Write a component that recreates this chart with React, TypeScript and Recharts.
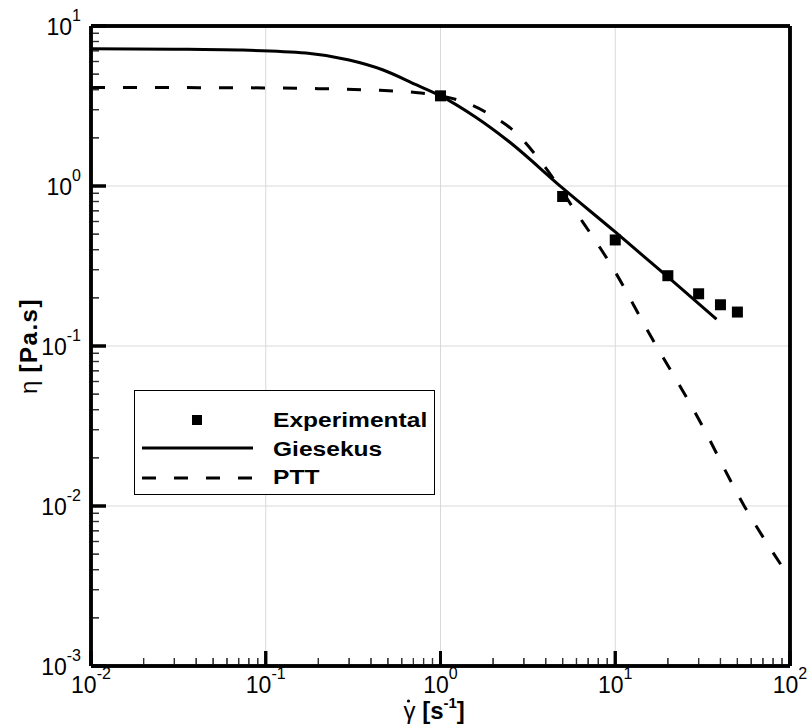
import React from "react";
import { ComposedChart, Line, XAxis, YAxis, ReferenceLine } from "recharts";

// shear rate [1/s] and viscosity [Pa.s]
const expShear = [1, 5, 10, 20, 30, 40, 50];
const expEta = [3.66, 0.86, 0.46, 0.275, 0.212, 0.181, 0.163];

const giesekusShear = [0.01, 0.03, 0.07, 0.17, 0.3, 0.47, 0.73, 1, 1.6, 2.4, 5, 10, 20, 38];
const giesekusEta = [7.2, 7.16, 7.08, 6.78, 6.13, 5.31, 4.28, 3.66, 2.68, 1.94, 0.97, 0.516, 0.27, 0.147];

const pttShear = [0.01, 0.03, 0.1, 0.2, 0.4, 0.7, 1, 1.3, 1.97, 2.7, 3.7, 6, 10, 15, 30, 55, 90];
const pttEta = [4.12, 4.12, 4.1, 4.06, 3.98, 3.85, 3.66, 3.41, 2.75, 2.15, 1.45, 0.68, 0.29, 0.13, 0.035, 0.0099, 0.0042];

const xDecades = [-2, -1, 0, 1, 2];
const yDecades = [-3, -2, -1, 0, 1];
const minorSteps = [2, 3, 4, 5, 6, 7, 8, 9];

const legendNames = ["Experimental", "Giesekus", "PTT"];

const FONT = '"Liberation Sans", Arial, Helvetica, sans-serif';
const W = 811;
const H = 727;
const MARGIN = { top: 26, right: 21, bottom: 21, left: 31 };
const PLOT_W = 699;
const PLOT_H = 640;

const toRows = (xs: number[], ys: number[]) => xs.map((x, i) => ({ x, y: ys[i] }));
const expData = toRows(expShear, expEta);
const giesekusData = toRows(giesekusShear, giesekusEta);
const pttData = toRows(pttShear, pttEta);

const majors = (decades: number[]) => decades.map((d) => Math.pow(10, d));
const minors = (decades: number[]) => {
  const out: number[] = [];
  decades.slice(0, -1).forEach((d) => minorSteps.forEach((m) => out.push(m * Math.pow(10, d))));
  return out;
};
const xMajor = majors(xDecades);
const yMajor = majors(yDecades);
const xMinor = minors(xDecades);
const yMinor = minors(yDecades);

const xMin = xMajor[0];
const xMax = xMajor[xMajor.length - 1];
const yMin = yMajor[0];
const yMax = yMajor[yMajor.length - 1];

const expOf = (v: number) => Math.round(Math.log10(v));
const xFactor = (px: number) => Math.pow(10, (px * (xDecades.length - 1)) / PLOT_W);
const yFactor = (px: number) => Math.pow(10, (px * (yDecades.length - 1)) / PLOT_H);

const XTick = (props: any) => {
  const { x, y, payload } = props;
  return (
    <text x={x} y={y + 27} textAnchor="middle" fontFamily={FONT} fontSize={23} fill="#000">
      <tspan>10</tspan>
      <tspan dy={-14} fontSize={16}>{expOf(payload.value)}</tspan>
    </text>
  );
};

const YTick = (props: any) => {
  const { x, y, payload } = props;
  return (
    <text x={x - 10} y={y + 8.5} textAnchor="end" fontFamily={FONT} fontSize={23} fill="#000">
      <tspan>10</tspan>
      <tspan dy={-14} fontSize={16}>{expOf(payload.value)}</tspan>
    </text>
  );
};

const EmptyTick = () => <g />;

const XTitle = (props: any) => {
  const { viewBox } = props;
  const x0 = viewBox.x + viewBox.width / 2 - 37;
  const y = viewBox.y + 53;
  return (
    <g>
      <text x={x0} y={y} fontFamily={FONT} fontSize={24} fill="#000">
        <tspan fontWeight="normal">γ</tspan>
        <tspan fontWeight="bold"> [s</tspan>
        <tspan fontWeight="bold" fontSize={15} dy={-11}>-1</tspan>
        <tspan fontWeight="bold" dy={11}>]</tspan>
      </text>
      <circle cx={x0 + 5} cy={y - 18} r={1.6} fill="#000" />
    </g>
  );
};

const YTitle = (props: any) => {
  const { viewBox } = props;
  const x = viewBox.x + viewBox.width - 54;
  const cy = viewBox.y + viewBox.height / 2;
  return (
    <text
      x={x}
      y={cy}
      textAnchor="middle"
      fontFamily={FONT}
      fontSize={24}
      fill="#000"
      transform={`rotate(-90, ${x}, ${cy})`}
    >
      <tspan fontWeight="normal">η</tspan>
      <tspan fontWeight="bold" letterSpacing={1.5}> [Pa.s]</tspan>
    </text>
  );
};

const SquareDot = (props: any) => {
  const { cx, cy, index } = props;
  if (cx == null || cy == null) return <g key={index} />;
  return <rect key={index} x={cx - 5.5} y={cy - 5.5} width={11} height={11} fill="#000" />;
};

const LegendBox = () => (
  <svg
    width={302}
    height={106}
    style={{ position: "absolute", left: 134, top: 390, display: "block", pointerEvents: "none" }}
  >
    <rect x={0.5} y={0.5} width={300} height={104} fill="#fff" stroke="#000" strokeWidth={1} />
    <rect x={58} y={25} width={10} height={10} fill="#000" />
    <line x1={8} x2={119} y1={58} y2={58} stroke="#000" strokeWidth={3} />
    <line x1={8} x2={119} y1={88} y2={88} stroke="#000" strokeWidth={3} strokeDasharray="14 18" />
    {legendNames.map((n, i) => (
      <text
        key={n}
        transform={`translate(139, ${37 + i * 28.5}) scale(1.17, 1)`}
        fontFamily={FONT}
        fontSize={21}
        fontWeight="bold"
        fill="#000"
      >
        {n}
      </text>
    ))}
  </svg>
);

const tickSeg = (v: number, major: boolean, axis: "x" | "y") => (
  <ReferenceLine
    key={axis + (major ? "M" : "m") + v}
    segment={
      axis === "x"
        ? [
            { x: v, y: yMin },
            { x: v, y: yMin * yFactor(major ? 15 : 8) },
          ]
        : [
            { x: xMin, y: v },
            { x: xMin * xFactor(major ? 15 : 8), y: v },
          ]
    }
    stroke={major ? "#000" : "#333"}
    strokeWidth={major ? 3 : 1.2}
    ifOverflow="visible"
  />
);

// transparent chart laid over the main one: inward ticks and the frame
const TickLayer = (p: {
  xTicks: number[];
  yTicks: number[];
  len: number;
  width: number;
  color: string;
  frame: boolean;
}) => (
  <div style={{ position: "absolute", left: 0, top: 0, pointerEvents: "none" }}>
    <ComposedChart width={W} height={H} margin={MARGIN}>
      <XAxis
        dataKey="x"
        type="number"
        scale="log"
        domain={[xMin, xMax]}
        ticks={p.xTicks}
        interval={0}
        height={40}
        tick={<EmptyTick />}
        tickSize={-p.len}
        tickLine={{ stroke: p.color, strokeWidth: p.width }}
        axisLine={p.frame ? { stroke: "#000", strokeWidth: 3.5 } : false}
      />
      <YAxis
        dataKey="y"
        type="number"
        scale="log"
        domain={[yMin, yMax]}
        ticks={p.yTicks}
        interval={0}
        width={60}
        tick={<EmptyTick />}
        tickSize={-p.len}
        tickLine={{ stroke: p.color, strokeWidth: p.width }}
        axisLine={p.frame ? { stroke: "#000", strokeWidth: 3.5 } : false}
      />
      {p.frame && <ReferenceLine x={xMax} stroke="#000" strokeWidth={3.5} ifOverflow="visible" />}
      {p.frame && <ReferenceLine y={yMax} stroke="#000" strokeWidth={3.5} ifOverflow="visible" />}
      <Line
        data={giesekusData}
        dataKey="y"
        stroke="#000"
        strokeOpacity={0}
        dot={false}
        activeDot={false}
        isAnimationActive={false}
      />
    </ComposedChart>
  </div>
);

export default function App(): JSX.Element {
  return (
    <div style={{ position: "absolute", left: 0, top: 0, width: W, height: H, background: "#fff" }}>
      <ComposedChart width={W} height={H} margin={MARGIN}>
        <XAxis
          dataKey="x"
          type="number"
          scale="log"
          domain={[xMin, xMax]}
          ticks={xMajor}
          interval={0}
          axisLine={{ stroke: "#000", strokeWidth: 3.5 }}
          tickLine={false}
          tickSize={0}
          tickMargin={0}
          height={40}
          tick={<XTick />}
          label={<XTitle />}
        />
        <YAxis
          dataKey="y"
          type="number"
          scale="log"
          domain={[yMin, yMax]}
          ticks={yMajor}
          interval={0}
          axisLine={{ stroke: "#000", strokeWidth: 3.5 }}
          tickLine={false}
          tickSize={0}
          tickMargin={0}
          width={60}
          tick={<YTick />}
          label={<YTitle />}
        />
        {xMajor.slice(1, -1).map((v) => (
          <ReferenceLine key={"gx" + v} x={v} stroke="#d9d9d9" strokeWidth={1} />
        ))}
        {yMajor.slice(1, -1).map((v) => (
          <ReferenceLine key={"gy" + v} y={v} stroke="#d9d9d9" strokeWidth={1} />
        ))}
        {xMajor.map((v) => tickSeg(v, true, "x"))}
        {xMinor.map((v) => tickSeg(v, false, "x"))}
        {yMajor.map((v) => tickSeg(v, true, "y"))}
        {yMinor.map((v) => tickSeg(v, false, "y"))}
        <ReferenceLine x={xMax} stroke="#000" strokeWidth={3.5} ifOverflow="visible" />
        <ReferenceLine y={yMax} stroke="#000" strokeWidth={3.5} ifOverflow="visible" />
        <Line
          data={giesekusData}
          dataKey="y"
          name="Giesekus"
          type="monotone"
          stroke="#000"
          strokeWidth={3}
          dot={false}
          activeDot={false}
          isAnimationActive={false}
        />
        <Line
          data={pttData}
          dataKey="y"
          name="PTT"
          type="monotone"
          stroke="#000"
          strokeWidth={3}
          strokeDasharray="14 18"
          dot={false}
          activeDot={false}
          isAnimationActive={false}
        />
        <Line
          data={expData}
          dataKey="y"
          name="Experimental"
          stroke="none"
          dot={<SquareDot />}
          activeDot={false}
          isAnimationActive={false}
        />
      </ComposedChart>
      <TickLayer xTicks={xMinor} yTicks={yMinor} len={8} width={1.2} color="#333" frame={false} />
      <TickLayer xTicks={xMajor} yTicks={yMajor} len={15} width={3} color="#000" frame={true} />
      <LegendBox />
    </div>
  );
}
